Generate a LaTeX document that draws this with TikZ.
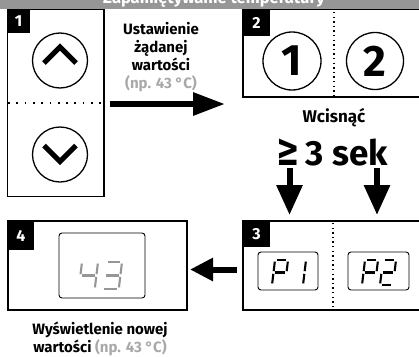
\documentclass[tikz,border=0pt]{standalone}
\usepackage{fontspec}
\setmainfont{Fira Sans}
\newfontfamily\dejavu{DejaVu Sans}
\usetikzlibrary{arrows.meta}
\definecolor{bannergray}{RGB}{150,150,150}
\definecolor{txtgray}{RGB}{168,168,168}
\definecolor{lcdgray}{RGB}{150,150,150}
\newcommand\lcdsega{\draw (1.6,0) -- (\dw-1.6,0);}
\newcommand\lcdsegb{\draw (\dw,1.6) -- (\dw,\dh/2-1.3);}
\newcommand\lcdsegc{\draw (\dw,\dh/2+1.3) -- (\dw,\dh-1.6);}
\newcommand\lcdsegd{\draw (1.6,\dh) -- (\dw-1.6,\dh);}
\newcommand\lcdsege{\draw (0,\dh/2+1.3) -- (0,\dh-1.6);}
\newcommand\lcdsegf{\draw (0,1.6) -- (0,\dh/2-1.3);}
\newcommand\lcdsegg{\draw (1.6,\dh/2) -- (\dw-1.6,\dh/2);}
\newcommand\lcddigit[6]{%
  \begin{scope}[shift={(#1,#2)}, xslant=0.12, line width=2.1pt, draw=#6]
    \def\dw{#3}\def\dh{#4}%
    \foreach \s in {#5}{\csname lcdseg\s\endcsname}
  \end{scope}}
\begin{document}
\begin{tikzpicture}[x=1pt,y=-1pt,
  box/.style={draw, line width=1.5pt, outer sep=0pt, inner sep=0pt},
  tab/.style={fill=black, text=white, font=\bfseries\fontsize{16}{16}\selectfont, inner sep=0pt, outer sep=0pt, anchor=north west},
  btn/.style={circle, draw, line width=1.3pt, inner sep=0pt, outer sep=0pt},
  chev/.style={line width=5pt},
  lcd/.style={draw, rounded corners=3pt, line width=0.9pt, inner sep=0pt},
  fatarrow/.style n args={2}{line width=6pt, -{Triangle[length=#1,width=#2]}},
  hdots/.style={line width=1.7pt, dash pattern=on 1.7pt off 6.6pt},
  vdots/.style={line width=1.4pt, dash pattern=on 1.4pt off 3.2pt},
  lbl/.style={font=\bfseries\fontsize{15}{18}\selectfont, align=center, inner sep=0pt}
]
\useasboundingbox (0,0) rectangle (419,356);
\clip (0,0) rectangle (419,356);

% boxes
\node[box, minimum width=96.5pt, minimum height=187.5pt] (b1) at (55.75,102.75) {};
\node[box, minimum width=179pt, minimum height=88pt] (b2) at (332.5,53) {};
\node[box, minimum width=179pt, minimum height=89pt] (b3) at (332.5,265.5) {};
\node[box, minimum width=179pt, minimum height=89pt] (b4) at (97.5,265.5) {};

% tabs
\node[tab, minimum width=22pt, minimum height=24pt] (t1) at (b1.north west) {1};
\node[tab, minimum width=27pt, minimum height=27pt] (t2) at (b2.north west) {2};
\node[tab, minimum width=27pt, minimum height=26pt] (t3) at (b3.north west) {3};
\node[tab, minimum width=26pt, minimum height=29pt] (t4) at (b4.north west) {4};

% dividers
\coordinate (d1a) at (8,103); \coordinate (d1b) at (104,103);
\draw[hdots] (d1a) -- (d1b);
\coordinate (d2a) at (334,12); \coordinate (d2b) at (334,97);
\draw[vdots] (d2a) -- (d2b);
\coordinate (d3a) at (333,223); \coordinate (d3b) at (333,310);
\draw[vdots] (d3a) -- (d3b);

% box 1 buttons
\node[btn, minimum size=55pt] (up) at (60,60.5) {};
\node[btn, minimum size=55pt] (down) at (60,154.5) {};
\draw[chev] ([shift={(-16,2.5)}]up.center) -- ([shift={(0,-13.5)}]up.center) -- ([shift={(16,2.5)}]up.center);
\draw[chev] ([shift={(-16,-9)}]down.center) -- ([shift={(0,7)}]down.center) -- ([shift={(16,-9)}]down.center);

% box 2 buttons
\node[btn, minimum size=58pt, font=\bfseries\fontsize{44}{44}\selectfont] (k1) at (292,61) {1};
\node[btn, minimum size=57pt, font=\bfseries\fontsize{44}{44}\selectfont] (k2) at (375,61) {2};

% box 3 displays
\node[lcd, minimum width=60pt, minimum height=38pt] (p1) at (288,271) {};
\node[lcd, minimum width=61pt, minimum height=38pt] (p2) at (378.5,271) {};
\lcddigit{275}{260}{13}{25}{a,b,f,g,e}{black}
\lcddigit{293}{260}{13}{25}{b,c}{black}
\lcddigit{365}{260}{13}{25}{a,b,f,g,e}{black}
\lcddigit{383}{260}{13}{25}{a,b,g,e,d}{black}

% box 4 display
\node[lcd, minimum width=86pt, minimum height=65pt] (v43) at (102,265.5) {};
\lcddigit{82}{262}{16}{27}{f,g,b,c}{lcdgray}
\lcddigit{106}{262}{16}{27}{a,b,g,c,d}{lcdgray}

% arrows
\coordinate (r1) at (110,104); \coordinate (r2) at (225,104);
\draw[fatarrow={32pt}{22pt}] (r1) -- (r2);
\coordinate (da1) at (289.5,168); \coordinate (da2) at (289.5,215);
\draw[fatarrow={30pt}{25pt}] (da1) -- (da2);
\coordinate (db1) at (377,168); \coordinate (db2) at (377,215);
\draw[fatarrow={30pt}{25pt}] (db1) -- (db2);
\coordinate (l1) at (237,269.5); \coordinate (l2) at (190,269.5);
\draw[fatarrow={23pt}{22pt}] (l1) -- (l2);

% texts
\node[lbl, anchor=north] (set) at (161,22.5) {Ustawienie\\żądanej\\wartości\\\textcolor{txtgray}{(np. 43 °C)}};
\node[font=\bfseries\fontsize{17}{17}\selectfont, anchor=base, inner sep=0pt] (press) at (334,122) {Wcisnąć};
\node[font=\bfseries\fontsize{35}{35}\selectfont, anchor=base, inner sep=0pt] (sec) at (332,165) {\scalebox{0.8}[1.3]{\dejavu\bfseries ≥}\hspace{6pt}3 sek};
\node[lbl, anchor=north] (show) at (100,321.5) {Wyświetlenie nowej\\wartości \textcolor{txtgray}{(np. 43 °C)}};

% banner
\fill[bannergray] (0,0) rectangle (419,8.5);
\node[font=\bfseries\fontsize{16.5}{16.5}\selectfont, text=white, anchor=base, inner sep=0pt] (title) at (214,4) {Zapamiętywanie temperatury};
\end{tikzpicture}
\end{document}
